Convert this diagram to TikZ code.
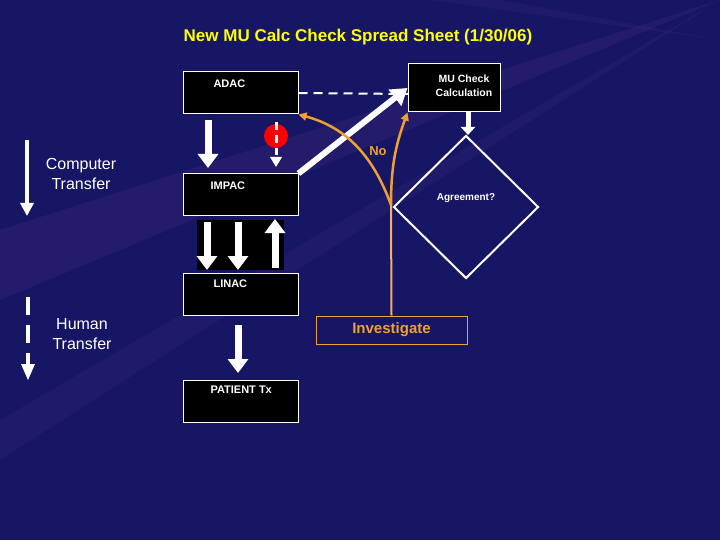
\documentclass[tikz,border=0pt]{standalone}
\usepackage{fontspec}
\setmainfont{Liberation Sans}
\usetikzlibrary{arrows.meta,shapes.geometric}
\definecolor{bg}{RGB}{22,22,100}
\definecolor{ray}{RGB}{50,35,115}
\definecolor{org}{RGB}{240,160,50}
\definecolor{ttl}{RGB}{255,255,0}
\begin{document}
\begin{tikzpicture}[x=1pt,y=-1pt,
  box/.style={draw=white,fill=black,line width=1pt,minimum width=115pt,minimum height=42pt,inner sep=0pt},
  lbl/.style={text=white,font=\bfseries\fontsize{11}{12}\selectfont},
  big/.style={draw=white,line width=7pt,-{Triangle[width=20pt,length=14pt]}},
  oarr/.style={draw=org,line width=2.5pt,-{Triangle[width=8pt,length=8pt]}}]
\useasboundingbox (0,0) rectangle (720,540);
\fill[bg] (0,0) rectangle (720,540);
\begin{scope}
\clip (0,0) rectangle (720,540);
\fill[ray,opacity=0.5] (720,0) -- (0,230) -- (0,300) -- cycle;
\fill[ray,opacity=0.35] (720,0) -- (0,420) -- (0,460) -- cycle;
\fill[ray,opacity=0.35] (720,40) -- (430,0) -- (500,0) -- cycle;
\end{scope}
\node[text=ttl,font=\bfseries\fontsize{17}{20}\selectfont] (title) at (358,37) {New MU Calc Check Spread Sheet (1/30/06)};
\node[box] (adac) at (240.5,93) {};
\node[lbl,anchor=west] (adact) at (210,84) {ADAC};
\node[box,minimum width=92pt,minimum height=48pt] (mu) at (454,88) {};
\node[lbl,align=center,font=\bfseries\fontsize{10.5}{14}\selectfont] (mut) at (464,86) {MU Check\\Calculation};
\node[box] (impac) at (240.5,195) {};
\node[lbl,anchor=west] (impact) at (207,186) {IMPAC};
\node[box] (linac) at (240.5,294) {};
\node[lbl,anchor=west] (linact) at (210,284) {LINAC};
\node[box] (pat) at (240.5,401) {};
\node[lbl,anchor=west] (patt) at (207,390) {PATIENT Tx};
\node[diamond,draw=white,line width=2pt,minimum width=145pt,minimum height=143pt,inner sep=0pt] (dia) at (466,207) {};
\node[text=white,font=\bfseries\fontsize{10}{11}\selectfont] (diat) at (466,198) {Agreement?};
\node[draw=org,fill=bg,line width=1pt,minimum width=151pt,minimum height=28pt,text=org,font=\bfseries\fontsize{15}{17}\selectfont] (inv) at (391.5,330) {Investigate};
% block arrows
\coordinate (a1) at (208,120); \coordinate (a1e) at (208,168);
\draw[big] (a1) -- (a1e);
\fill[red] (276,136) circle (12);
\coordinate (d1) at (276,122);
\draw[white,line width=3pt,dash pattern=on 8pt off 5pt] (d1) -- (276,155);
\fill[white] (270,157) -- (282,157) -- (276,167) -- cycle;
\coordinate (m1) at (468,112); \coordinate (m1e) at (468,135);
\draw[draw=white,line width=5pt,-{Triangle[width=14pt,length=8pt]}] (m1) -- (m1e);
\fill[black] (197,220) rectangle (284,270);
\draw[big] (207,222) -- (207,270);
\draw[big] (238,222) -- (238,270);
\draw[big] (275,268) -- (275,219);
\draw[big] (238,325) -- (238,373);
\draw[white,line width=6pt,-{Triangle[width=20pt,length=16pt]}] (impac.north east) -- (mu.west);
\coordinate (dend) at (408,94);
\draw[white,line width=2pt,dash pattern=on 9pt off 6pt] (adac.east) -- (dend);
% orange
\coordinate (j) at (391,205);
\draw[oarr] (j) to[out=110,in=-15] (adac.south east);
\draw[oarr] (j) to[out=90,in=-110] (mu.south west);
\draw[draw=org!60!pink,line width=2pt] (j) -- (inv.north);
\node[text=org,font=\bfseries\fontsize{13}{14}\selectfont] (no) at (378,151) {No};
% legend
\draw[white,line width=4pt,-{Triangle[width=13pt,length=13pt]}] (27,140) -- (27,216);
\node[text=white,align=center,font=\fontsize{16}{20}\selectfont] (ct) at (81,174) {Computer\\Transfer};
\draw[white,line width=4pt,dash pattern=on 18pt off 10pt] (28,297) -- (28,366);
\fill[white] (21,364) -- (35,364) -- (28,380) -- cycle;
\node[text=white,align=center,font=\fontsize{16}{20}\selectfont] (ht) at (82,334) {Human\\Transfer};
\end{tikzpicture}
\end{document}
